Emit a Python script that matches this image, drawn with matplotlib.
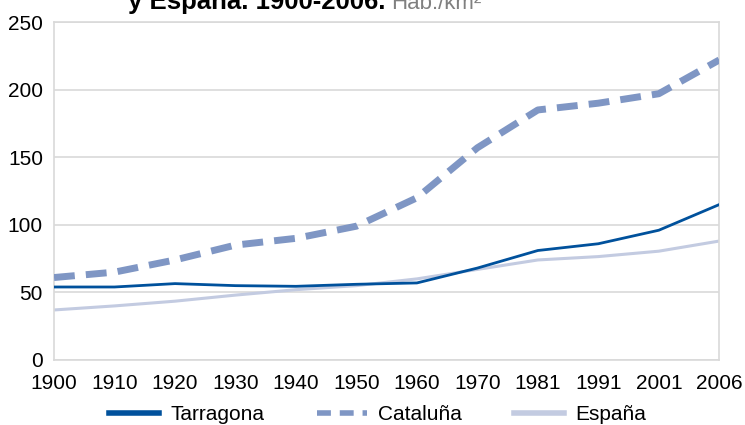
import matplotlib
matplotlib.use("Agg")
import matplotlib.pyplot as plt
from matplotlib.lines import Line2D

plt.rcParams['font.family'] = ['Liberation Sans', 'DejaVu Sans']

years = ["1900", "1910", "1920", "1930", "1940", "1950",
         "1960", "1970", "1981", "1991", "2001", "2006"]
tarragona = [54, 54, 56.5, 55, 54.5, 56, 57, 68, 81, 86, 96, 115]
cataluna = [61, 65, 74, 85, 90, 99, 120, 157, 185, 190, 197, 222]
espana = [37, 40, 43.5, 48, 52, 55, 60, 67, 74, 76.5, 80.5, 88]

c_tarr = "#00519c"
c_cat = "#7f96c4"
c_esp = "#c3cbe1"
grid_c = "#d9d9d9"

fig = plt.figure(figsize=(7.45, 4.25), dpi=100)
ax = fig.add_axes([0.0725, 0.153, 0.893, 0.795])

x = list(range(len(years)))
ax.plot(x, tarragona, color=c_tarr, lw=2.0, zorder=4)
ax.plot(x, cataluna, color=c_cat, lw=5, dashes=(3, 1.6),
        dash_capstyle="butt", zorder=3)
ax.plot(x, espana, color=c_esp, lw=2.2, zorder=2)

ax.set_xlim(0, 11)
ax.set_ylim(0, 250)
ax.set_xticks(x)
ax.set_xticklabels(years)
ax.set_yticks(range(0, 251, 50))
ax.tick_params(axis="both", labelsize=15, length=0, colors="black")
ax.tick_params(axis="x", pad=10)
ax.tick_params(axis="y", pad=8)
ax.grid(axis="y", color=grid_c, lw=1.2)
ax.set_axisbelow(True)
for s in ax.spines.values():
    s.set_color(grid_c)
    s.set_linewidth(1.2)

handles = [
    Line2D([], [], color=c_tarr, lw=4),
    Line2D([], [], color=c_cat, lw=4, dashes=(2.5, 1.6), dash_capstyle="butt"),
    Line2D([], [], color=c_esp, lw=4),
]
fig.legend(handles, ["Tarragona", "Cataluña", "España"], loc="center",
           bbox_to_anchor=(0.507, 1 - 415 / 425), ncol=3, frameon=False,
           fontsize=15, handlelength=2.4, columnspacing=2.5,
           handletextpad=0.55, borderpad=0, borderaxespad=0)

fig.text(128 / 745, 1 - 9 / 425, "y España. 1900-2006.", fontsize=18.5,
         fontweight="bold", va="baseline", ha="left")
fig.text(391 / 745, 1 - 9 / 425, "Hab./km²", fontsize=16, color="#808080",
         va="baseline", ha="left")

fig.savefig("out.png", dpi=100)
